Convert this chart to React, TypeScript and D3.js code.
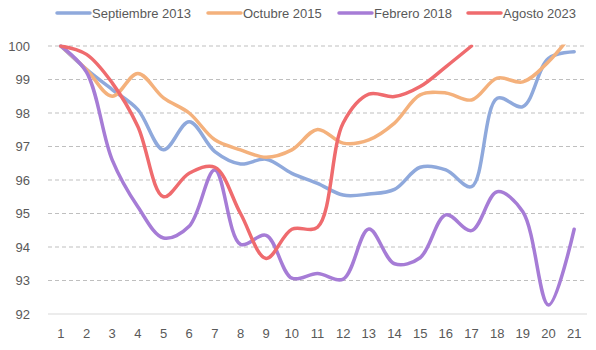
import React from "react";
import * as d3 from "d3";

const categories = ["1","2","3","4","5","6","7","8","9","10","11","12","13","14","15","16","17","18","19","20","21"];
const yTicks = [92, 93, 94, 95, 96, 97, 98, 99, 100];

const sep2013 = [100, 99.3, 98.7, 98.1, 96.9, 97.74, 96.85, 96.48, 96.62, 96.2, 95.9, 95.55, 95.58, 95.72, 96.38, 96.3, 95.8, 98.44, 98.19, 99.63, 99.83];
const oct2015 = [100, 99.3, 98.5, 99.18, 98.45, 98.0, 97.2, 96.9, 96.68, 96.9, 97.51, 97.1, 97.2, 97.7, 98.54, 98.6, 98.39, 99.04, 98.93, 99.53, 100.45];
const feb2018 = [100, 99.22, 96.6, 95.2, 94.27, 94.62, 96.3, 94.08, 94.35, 93.07, 93.21, 93.04, 94.54, 93.5, 93.68, 94.96, 94.49, 95.65, 95.05, 92.27, 94.53];
const ago2023 = [100, 99.75, 98.9, 97.6, 95.5, 96.2, 96.38, 95.0, 93.66, 94.53, 94.59, 97.7, 98.56, 98.49, 98.79, 99.38, 100.0];

const seriesNames = ["Septiembre 2013", "Octubre 2015", "Febrero 2018", "Agosto 2023"];
const seriesColors = ["#8FA9DC", "#F4B17C", "#A67CD6", "#EF6B6E"];
const seriesData = [sep2013, oct2015, feb2018, ago2023];

const W = 596, H = 350;
const plot = { left: 48, right: 587, top: 46, bottom: 314 };
const font = "'Liberation Sans', Arial, sans-serif";

export default function App() {
  const x = d3.scaleBand<string>().domain(categories).range([plot.left, plot.right]).padding(0);
  const y = d3.scaleLinear().domain([92, 100]).range([plot.bottom, plot.top]);
  const cx = (i: number) => (x(categories[i]) as number) + x.bandwidth() / 2;
  const line = d3.line<number>()
    .x((_, i) => cx(i))
    .y((d) => y(d))
    .curve(d3.curveCatmullRom.alpha(0.5));

  const legendX = [57, 208, 339, 468];

  return (
    <svg width={W} height={H} style={{ position: "absolute", left: 0, top: 0, background: "#fff" }}>
      <defs>
        <clipPath id="plotclip">
          <rect x={plot.left} y={plot.top - 1.5} width={plot.right - plot.left} height={plot.bottom - plot.top + 1.5} />
        </clipPath>
      </defs>
      <rect x={0} y={0} width={W} height={H} fill="#fff" />
      {yTicks.map((t) => (
        <g key={t}>
          {t > 92 && (
            <line x1={plot.left} x2={plot.right} y1={y(t)} y2={y(t)} stroke="#BFBFBF" strokeWidth={1} strokeDasharray="4 3" />
          )}
          <text x={30} y={y(t)} dy="0.35em" textAnchor="end" fontFamily={font} fontSize={13} fill="#595959">{t}</text>
        </g>
      ))}
      <line x1={plot.left} x2={plot.right} y1={plot.bottom} y2={plot.bottom} stroke="#D9D9D9" strokeWidth={1} />
      {categories.map((c, i) => (
        <text key={c} x={cx(i)} y={333} dy="0.35em" textAnchor="middle" fontFamily={font} fontSize={13} fill="#595959">{c}</text>
      ))}
      <g clipPath="url(#plotclip)">
        {seriesData.map((s, k) => (
          <path key={k} d={line(s) || ""} fill="none" stroke={seriesColors[k]} strokeWidth={3.5} strokeLinecap="round" strokeLinejoin="round" />
        ))}
      </g>
      {seriesNames.map((n, k) => (
        <g key={n}>
          <line x1={legendX[k]} x2={legendX[k] + 33} y1={13} y2={13} stroke={seriesColors[k]} strokeWidth={3.5} strokeLinecap="round" />
          <text x={legendX[k] + 35} y={13} dy="0.35em" fontFamily={font} fontSize={13} fill="#595959">{n}</text>
        </g>
      ))}
    </svg>
  );
}
